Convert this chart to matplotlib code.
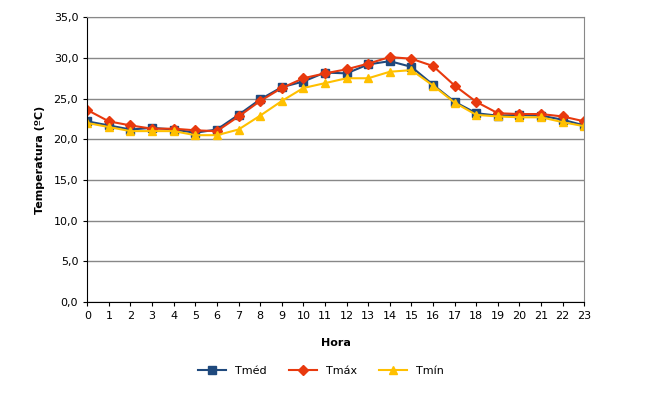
import matplotlib
matplotlib.use('Agg')
import matplotlib.pyplot as plt

horas = list(range(24))
tmed = [22.2, 21.7, 21.2, 21.4, 21.2, 20.8, 21.2, 23.0, 24.9, 26.4, 27.1, 28.2,
        28.1, 29.2, 29.6, 28.9, 26.7, 24.6, 23.2, 22.9, 23.0, 22.9, 22.4, 21.7]
tmax = [23.6, 22.2, 21.7, 21.3, 21.3, 21.1, 21.0, 22.8, 24.7, 26.3, 27.5, 28.1,
        28.6, 29.3, 30.1, 29.9, 29.0, 26.6, 24.6, 23.2, 23.1, 23.1, 22.8, 22.2]
tmin = [22.0, 21.5, 21.0, 21.0, 21.0, 20.5, 20.5, 21.2, 22.9, 24.7, 26.3, 26.9,
        27.5, 27.5, 28.3, 28.5, 26.6, 24.5, 23.0, 22.8, 22.7, 22.7, 22.1, 21.6]

plt.rcParams['font.family'] = ['DejaVu Sans']
fig = plt.figure(figsize=(6.61, 4.01), dpi=100)
ax = fig.add_axes([0.132, 0.247, 0.752, 0.71])

ax.plot(horas, tmed, color='#1F497D', marker='s', markersize=6, lw=1.5, label='Tméd')
ax.plot(horas, tmax, color='#E8390E', marker='D', markersize=5, lw=1.5, label='Tmáx')
ax.plot(horas, tmin, color='#FFC000', marker='^', markersize=6, lw=1.5, label='Tmín')

ax.set_xlim(0, 23)
ax.set_ylim(0, 35)
ax.set_xticks(horas)
yt = [0, 5, 10, 15, 20, 25, 30, 35]
ax.set_yticks(yt)
ax.set_yticklabels([f'{v:.1f}'.replace('.', ',') for v in yt])
ax.tick_params(labelsize=8, length=3)
ax.grid(axis='y', color='#888888', lw=1)
ax.set_axisbelow(True)
for s in ['top', 'right']:
    ax.spines[s].set_color('#888888')
ax.set_xlabel('Hora', fontsize=8, fontweight='bold', labelpad=12)
ax.set_ylabel('Temperatura (ºC)', fontsize=8, fontweight='bold', labelpad=6)
ax.legend(loc='upper center', bbox_to_anchor=(0.47, -0.19), ncol=3, frameon=False,
          fontsize=8, handlelength=2.5)
fig.savefig('out.png')
